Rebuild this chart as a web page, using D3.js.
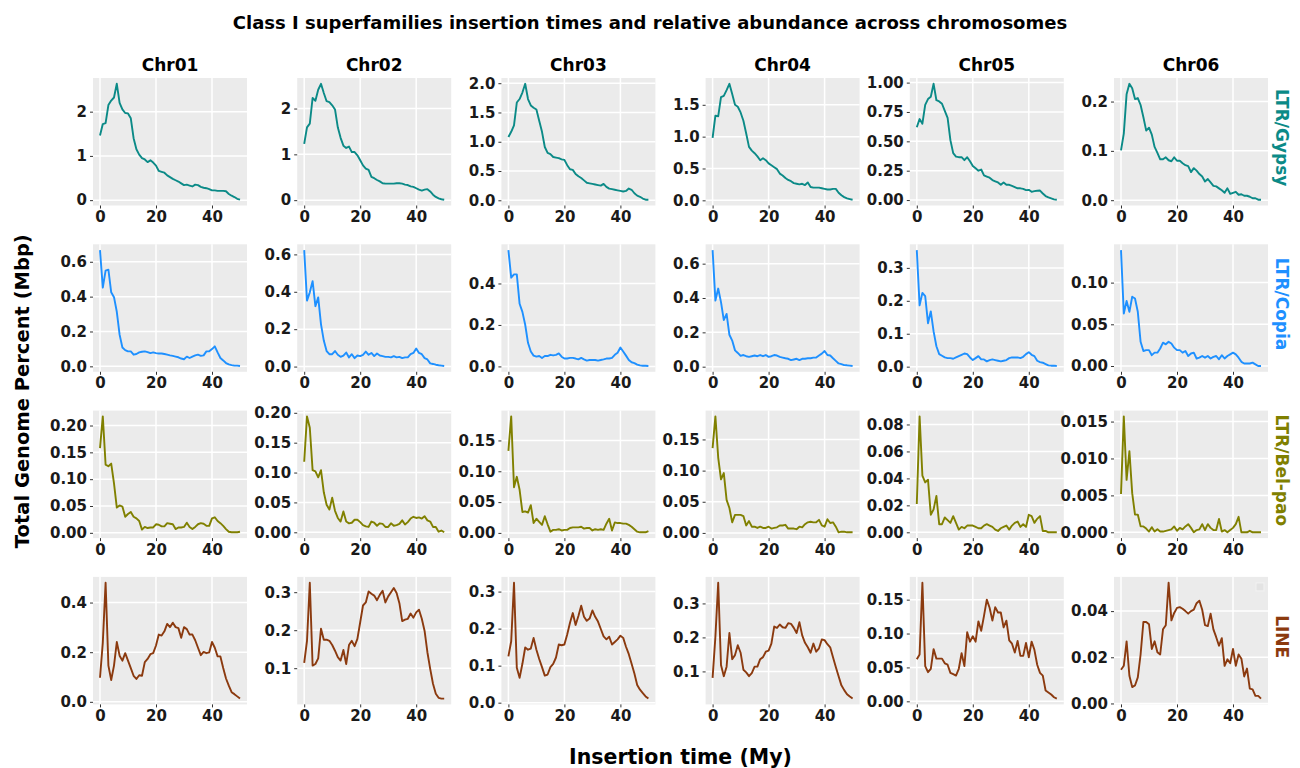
<!DOCTYPE html>
<html>
<head>
<meta charset="utf-8">
<script src="https://cdn.jsdelivr.net/npm/d3@7"></script>
<style>
  body { margin: 0; background: #fff; }
  text { font-family: "DejaVu Sans", sans-serif; font-weight: bold; }
</style>
</head>
<body>
<script>
// chromosomes (columns) and superfamilies (rows)
var chromosomes = ["Chr01", "Chr02", "Chr03", "Chr04", "Chr05", "Chr06"];
var superfamilies = ["LTR/Gypsy", "LTR/Copia", "LTR/Bel-pao", "LINE"];
var familyColors = ["#0b8a87", "#1e90ff", "#808000", "#8b3a0f"];

// insertion time bins (My)
var insertionTime = d3.range(0, 51);
var xTicks = [0, 20, 40];

var gypsyValues = [
    [1.46,1.72,1.74,2.15,2.25,2.32,2.63,2.2,2.05,1.97,1.96,1.85,1.4,1.15,1.03,0.95,0.92,0.86,0.9,0.85,0.78,0.66,0.64,0.62,0.56,0.52,0.48,0.45,0.42,0.38,0.34,0.35,0.33,0.31,0.35,0.34,0.3,0.28,0.27,0.25,0.22,0.22,0.21,0.21,0.21,0.2,0.14,0.1,0.07,0.03,0.01],
    [1.23,1.59,1.67,2.23,2.17,2.41,2.54,2.34,2.16,2.14,2.07,1.98,1.59,1.36,1.19,1.14,1.17,1.05,1.05,0.98,0.87,0.76,0.69,0.66,0.51,0.48,0.44,0.41,0.37,0.36,0.36,0.36,0.36,0.37,0.37,0.36,0.34,0.33,0.30,0.29,0.26,0.23,0.21,0.23,0.24,0.19,0.12,0.07,0.04,0.02,0.01],
    [1.08,1.17,1.28,1.67,1.73,1.84,1.99,1.73,1.62,1.58,1.55,1.36,1.17,0.91,0.81,0.79,0.74,0.73,0.72,0.70,0.69,0.60,0.53,0.52,0.45,0.41,0.38,0.34,0.30,0.29,0.28,0.27,0.26,0.25,0.28,0.23,0.20,0.19,0.18,0.17,0.16,0.15,0.16,0.20,0.18,0.12,0.08,0.06,0.03,0.01,0.01],
    [0.98,1.33,1.32,1.62,1.64,1.73,1.83,1.67,1.50,1.47,1.38,1.25,1.05,0.84,0.78,0.74,0.69,0.63,0.66,0.63,0.58,0.55,0.52,0.49,0.42,0.39,0.35,0.32,0.30,0.27,0.26,0.25,0.26,0.24,0.28,0.21,0.20,0.20,0.20,0.19,0.18,0.17,0.17,0.18,0.18,0.12,0.08,0.05,0.03,0.02,0.01],
    [0.62,0.69,0.65,0.81,0.86,0.88,0.99,0.85,0.84,0.82,0.76,0.70,0.51,0.40,0.37,0.365,0.365,0.34,0.365,0.33,0.29,0.27,0.25,0.26,0.21,0.20,0.19,0.17,0.16,0.15,0.13,0.15,0.13,0.13,0.12,0.11,0.10,0.10,0.095,0.085,0.087,0.07,0.076,0.079,0.081,0.056,0.034,0.022,0.014,0.006,0.003],
    [0.101,0.135,0.215,0.236,0.227,0.205,0.207,0.193,0.168,0.141,0.147,0.133,0.108,0.096,0.083,0.083,0.087,0.081,0.079,0.087,0.080,0.080,0.075,0.071,0.069,0.057,0.065,0.060,0.053,0.048,0.038,0.043,0.036,0.029,0.028,0.024,0.020,0.015,0.024,0.013,0.015,0.017,0.011,0.012,0.009,0.009,0.007,0.004,0.004,0.001,0.001]
];

var copiaValues = [
    [0.667,0.452,0.549,0.555,0.425,0.397,0.313,0.182,0.108,0.093,0.086,0.086,0.067,0.071,0.080,0.084,0.086,0.082,0.076,0.080,0.076,0.074,0.074,0.071,0.067,0.063,0.060,0.056,0.052,0.045,0.041,0.056,0.048,0.056,0.063,0.067,0.060,0.063,0.086,0.086,0.099,0.115,0.080,0.048,0.034,0.019,0.011,0.007,0.004,0.004,0.002],
    [0.623,0.353,0.397,0.457,0.323,0.370,0.226,0.139,0.083,0.066,0.066,0.083,0.063,0.052,0.059,0.075,0.049,0.066,0.045,0.059,0.056,0.063,0.080,0.063,0.073,0.056,0.070,0.059,0.056,0.052,0.052,0.049,0.056,0.049,0.052,0.045,0.049,0.049,0.066,0.073,0.097,0.073,0.066,0.045,0.038,0.017,0.014,0.010,0.007,0.005,0.003],
    [0.561,0.428,0.444,0.444,0.302,0.263,0.201,0.114,0.072,0.052,0.047,0.050,0.041,0.050,0.050,0.056,0.053,0.056,0.063,0.047,0.038,0.038,0.041,0.041,0.038,0.034,0.041,0.034,0.028,0.031,0.031,0.031,0.028,0.031,0.034,0.038,0.038,0.041,0.056,0.066,0.091,0.072,0.052,0.031,0.020,0.016,0.009,0.005,0.003,0.003,0.002],
    [0.679,0.385,0.455,0.376,0.271,0.307,0.186,0.152,0.095,0.080,0.063,0.068,0.061,0.057,0.061,0.065,0.061,0.068,0.061,0.068,0.057,0.061,0.068,0.065,0.057,0.053,0.049,0.046,0.038,0.042,0.046,0.038,0.046,0.046,0.049,0.049,0.053,0.053,0.065,0.076,0.091,0.068,0.065,0.049,0.034,0.019,0.015,0.009,0.008,0.006,0.004],
    [0.354,0.186,0.224,0.214,0.132,0.168,0.107,0.062,0.038,0.033,0.028,0.026,0.026,0.024,0.028,0.032,0.036,0.040,0.038,0.028,0.020,0.026,0.032,0.022,0.022,0.016,0.020,0.022,0.020,0.018,0.016,0.018,0.020,0.026,0.028,0.028,0.028,0.026,0.030,0.038,0.044,0.036,0.032,0.018,0.014,0.012,0.008,0.004,0.003,0.003,0.002],
    [0.139,0.063,0.078,0.065,0.083,0.081,0.065,0.029,0.018,0.019,0.019,0.013,0.016,0.016,0.021,0.028,0.026,0.029,0.027,0.022,0.019,0.019,0.016,0.018,0.012,0.015,0.016,0.009,0.010,0.012,0.010,0.012,0.009,0.011,0.012,0.008,0.013,0.009,0.012,0.014,0.016,0.014,0.010,0.005,0.003,0.003,0.003,0.004,0.002,0.000,0.000]
];

var belpaoValues = [
    [0.158,0.217,0.127,0.124,0.129,0.092,0.047,0.051,0.049,0.030,0.035,0.039,0.030,0.027,0.022,0.006,0.011,0.009,0.010,0.010,0.016,0.015,0.012,0.012,0.018,0.017,0.016,0.007,0.010,0.010,0.011,0.019,0.011,0.007,0.011,0.016,0.018,0.017,0.013,0.013,0.027,0.029,0.022,0.018,0.013,0.007,0.002,0.001,0.001,0.001,0.002],
    [0.118,0.194,0.175,0.104,0.102,0.092,0.104,0.067,0.046,0.038,0.058,0.036,0.024,0.018,0.035,0.018,0.015,0.016,0.021,0.021,0.017,0.012,0.010,0.009,0.018,0.016,0.011,0.015,0.014,0.009,0.009,0.015,0.011,0.012,0.014,0.020,0.013,0.017,0.023,0.026,0.024,0.025,0.023,0.027,0.020,0.018,0.009,0.009,0.001,0.003,0.000],
    [0.133,0.189,0.074,0.091,0.070,0.034,0.035,0.033,0.045,0.016,0.023,0.018,0.013,0.027,0.014,0.002,0.005,0.005,0.006,0.004,0.005,0.005,0.008,0.009,0.009,0.009,0.010,0.007,0.008,0.008,0.004,0.006,0.005,0.006,0.005,0.015,0.023,0.004,0.017,0.016,0.016,0.015,0.015,0.013,0.010,0.006,0.002,0.001,0.001,0.001,0.003],
    [0.136,0.187,0.121,0.086,0.096,0.053,0.040,0.017,0.029,0.029,0.029,0.027,0.012,0.019,0.010,0.010,0.008,0.010,0.008,0.008,0.010,0.007,0.008,0.009,0.012,0.012,0.013,0.007,0.007,0.007,0.006,0.010,0.009,0.014,0.017,0.018,0.017,0.017,0.021,0.012,0.010,0.022,0.016,0.017,0.010,0.001,0.002,0.002,0.001,0.001,0.001],
    [0.021,0.086,0.042,0.037,0.039,0.013,0.017,0.027,0.006,0.006,0.011,0.009,0.007,0.012,0.007,0.002,0.004,0.003,0.005,0.005,0.005,0.004,0.003,0.003,0.005,0.006,0.005,0.004,0.002,0.001,0.003,0.004,0.005,0.002,0.005,0.007,0.008,0.004,0.006,0.004,0.013,0.012,0.007,0.010,0.012,0.001,0.001,0.000,0.000,0.000,0.000],
    [0.0052,0.0157,0.0071,0.0110,0.0053,0.0024,0.0024,0.0008,0.0008,0.0005,0.0001,0.0007,0.0001,0.0004,0.0001,0.0001,0.0002,0.0003,0.0004,0.0008,0.0002,0.0006,0.0004,0.0008,0.0011,0.0006,0.0000,0.0003,0.0004,0.0011,0.0003,0.0011,0.0006,0.0003,0.0003,0.0018,0.0001,0.0003,0.0000,0.0003,0.0006,0.0011,0.0021,0.0000,0.0000,0.0000,0.0002,0.0000,0.0000,0.0000,0.0000]
];

var lineValues = [
    [0.097,0.238,0.480,0.146,0.088,0.146,0.241,0.186,0.166,0.196,0.166,0.136,0.105,0.092,0.107,0.105,0.160,0.173,0.192,0.196,0.227,0.271,0.267,0.284,0.314,0.301,0.319,0.301,0.297,0.258,0.301,0.293,0.271,0.271,0.248,0.218,0.188,0.201,0.196,0.199,0.241,0.218,0.183,0.183,0.136,0.094,0.065,0.039,0.031,0.022,0.013],
    [0.114,0.172,0.325,0.107,0.111,0.126,0.204,0.175,0.175,0.172,0.161,0.146,0.129,0.120,0.148,0.111,0.161,0.172,0.158,0.177,0.221,0.265,0.273,0.302,0.296,0.291,0.279,0.293,0.304,0.273,0.289,0.300,0.311,0.298,0.271,0.224,0.228,0.230,0.244,0.233,0.247,0.254,0.230,0.198,0.142,0.098,0.059,0.033,0.022,0.020,0.020],
    [0.125,0.166,0.324,0.094,0.067,0.105,0.149,0.143,0.146,0.175,0.143,0.118,0.096,0.073,0.076,0.096,0.105,0.122,0.157,0.155,0.157,0.184,0.216,0.242,0.210,0.234,0.262,0.232,0.221,0.227,0.249,0.232,0.219,0.199,0.179,0.171,0.178,0.157,0.164,0.171,0.181,0.175,0.151,0.131,0.105,0.079,0.048,0.035,0.026,0.017,0.011],
    [0.081,0.202,0.361,0.119,0.086,0.114,0.213,0.136,0.148,0.177,0.155,0.105,0.097,0.086,0.095,0.114,0.114,0.136,0.142,0.158,0.161,0.182,0.232,0.228,0.238,0.230,0.228,0.242,0.240,0.228,0.213,0.245,0.206,0.184,0.171,0.155,0.182,0.158,0.168,0.194,0.192,0.180,0.171,0.142,0.113,0.086,0.059,0.045,0.033,0.026,0.020],
    [0.062,0.069,0.175,0.052,0.043,0.048,0.077,0.063,0.063,0.063,0.056,0.054,0.042,0.040,0.038,0.048,0.071,0.052,0.102,0.088,0.096,0.088,0.118,0.104,0.126,0.150,0.138,0.119,0.139,0.131,0.131,0.109,0.119,0.090,0.085,0.072,0.089,0.067,0.067,0.086,0.065,0.088,0.076,0.054,0.042,0.038,0.016,0.013,0.010,0.006,0.004],
    [0.0146,0.0163,0.0269,0.0120,0.0071,0.0078,0.0113,0.0212,0.0353,0.0353,0.0343,0.0236,0.0269,0.0222,0.0212,0.0321,0.0339,0.0523,0.0360,0.0392,0.0414,0.0417,0.0410,0.0400,0.0389,0.0400,0.0406,0.0434,0.0445,0.0406,0.0339,0.0335,0.0389,0.0321,0.0287,0.0250,0.0283,0.0163,0.0191,0.0174,0.0236,0.0163,0.0212,0.0194,0.0117,0.0151,0.0064,0.0061,0.0033,0.0033,0.0021]
];

// y tick labels, one list per panel
var gypsyTicks = [["0","1","2"], ["0","1","2"], ["0.0","0.5","1.0","1.5","2.0"], ["0.0","0.5","1.0","1.5"], ["0.00","0.25","0.50","0.75","1.00"], ["0.0","0.1","0.2"]];
var copiaTicks = [["0.0","0.2","0.4","0.6"], ["0.0","0.2","0.4","0.6"], ["0.0","0.2","0.4"], ["0.0","0.2","0.4","0.6"], ["0.0","0.1","0.2","0.3"], ["0.00","0.05","0.10"]];
var belpaoTicks = [["0.00","0.05","0.10","0.15","0.20"], ["0.00","0.05","0.10","0.15","0.20"], ["0.00","0.05","0.10","0.15"], ["0.00","0.05","0.10","0.15"], ["0.00","0.02","0.04","0.06","0.08"], ["0.000","0.005","0.010","0.015"]];
var lineTicks = [["0.0","0.2","0.4"], ["0.1","0.2","0.3"], ["0.0","0.1","0.2","0.3"], ["0.1","0.2","0.3"], ["0.00","0.05","0.10","0.15"], ["0.00","0.02","0.04"]];

var rowValues = [gypsyValues, copiaValues, belpaoValues, lineValues];
var rowTicks = [gypsyTicks, copiaTicks, belpaoTicks, lineTicks];

(function () {
    'use strict';
    const width = 1300, height = 768;
    const panelLeft = 93, panelStepX = 204.2, panelW = 154;
    const panelTop = 78, panelStepY = 166.3, panelH = 127.5;
    const gridBottom = panelTop + 3 * panelStepY + panelH;

    const svg = d3.select("body").append("svg")
        .attr("width", width)
        .attr("height", height);

    svg.append("rect").attr("width", width).attr("height", height).attr("fill", "#fff");

    svg.append("text")
        .attr("x", 650).attr("y", 29)
        .attr("text-anchor", "middle")
        .style("font-size", "18px")
        .attr("fill", "#000")
        .text("Class I superfamilies insertion times and relative abundance across chromosomes");

    const x = d3.scaleLinear().domain([-2.5, 52.5]).range([0, panelW]);

    superfamilies.forEach(function (family, r) {
        const top = panelTop + r * panelStepY;
        chromosomes.forEach(function (chrom, c) {
            const left = panelLeft + c * panelStepX;
            const values = rowValues[r][c];
            const labels = rowTicks[r][c];
            const ext = d3.extent(values);
            const pad = (ext[1] - ext[0]) * 0.05;
            const y = d3.scaleLinear().domain([ext[0] - pad, ext[1] + pad]).range([panelH, 0]);
            const tickVals = labels.map(function (s) { return +s; });

            const g = svg.append("g").attr("transform", "translate(" + left + "," + top + ")");
            g.append("rect").attr("width", panelW).attr("height", panelH).attr("fill", "#ebebeb");

            g.selectAll(".gx").data(xTicks).enter().append("line")
                .attr("x1", function (d) { return x(d); }).attr("x2", function (d) { return x(d); })
                .attr("y1", 0).attr("y2", panelH)
                .attr("stroke", "#fff").attr("stroke-width", 1.5);
            g.selectAll(".gy").data(tickVals).enter().append("line")
                .attr("x1", 0).attr("x2", panelW)
                .attr("y1", function (d) { return y(d); }).attr("y2", function (d) { return y(d); })
                .attr("stroke", "#fff").attr("stroke-width", 1.5);

            const line = d3.line()
                .x(function (d, i) { return x(insertionTime[i]); })
                .y(function (d) { return y(d); });
            g.append("path")
                .datum(values)
                .attr("d", line)
                .attr("fill", "none")
                .attr("stroke", familyColors[r])
                .attr("stroke-width", 1.9)
                .attr("stroke-linejoin", "round");

            const yAxis = g.append("g")
                .call(d3.axisLeft(y).tickValues(tickVals).tickSize(3).tickPadding(3)
                    .tickFormat(function (d, i) { return labels[i]; }));
            const xAxis = g.append("g")
                .attr("transform", "translate(0," + panelH + ")")
                .call(d3.axisBottom(x).tickValues(xTicks).tickSize(3).tickPadding(3));
            [yAxis, xAxis].forEach(function (a) {
                a.select(".domain").remove();
                a.selectAll(".tick line").attr("stroke", "#333");
                a.selectAll(".tick text")
                    .attr("fill", "#1a1a1a")
                    .style("font-family", "'DejaVu Sans', sans-serif")
                    .style("font-weight", "bold")
                    .style("font-size", "15px");
            });

            if (r === 0) {
                g.append("text")
                    .attr("x", panelW / 2).attr("y", -7)
                    .attr("text-anchor", "middle")
                    .style("font-size", "17px")
                    .attr("fill", "#000")
                    .text(chrom);
            }
            if (r === superfamilies.length - 1 && c === chromosomes.length - 1) {
                // empty legend key left by the plotting library
                g.append("rect")
                    .attr("x", panelW - 12).attr("y", 6)
                    .attr("width", 8).attr("height", 8)
                    .attr("fill", "#e3e3e3").attr("stroke", "#f2f2f2");
            }
        });

        svg.append("text")
            .attr("transform", "translate(1282," + (top + panelH / 2 - 4) + ") rotate(90)")
            .attr("text-anchor", "middle")
            .attr("dy", "0.35em")
            .style("font-size", "17px")
            .attr("fill", familyColors[r])
            .text(family);
    });

    svg.append("text")
        .attr("transform", "translate(22," + (panelTop + gridBottom) / 2 + ") rotate(-90)")
        .attr("text-anchor", "middle")
        .attr("dy", "0.35em")
        .style("font-size", "19.5px")
        .attr("fill", "#000")
        .text("Total Genome Percent (Mbp)");

    svg.append("text")
        .attr("x", panelLeft + (5 * panelStepX + panelW) / 2).attr("y", 764)
        .attr("text-anchor", "middle")
        .style("font-size", "20.5px")
        .attr("fill", "#000")
        .text("Insertion time (My)");
})();
</script>
</body>
</html>
